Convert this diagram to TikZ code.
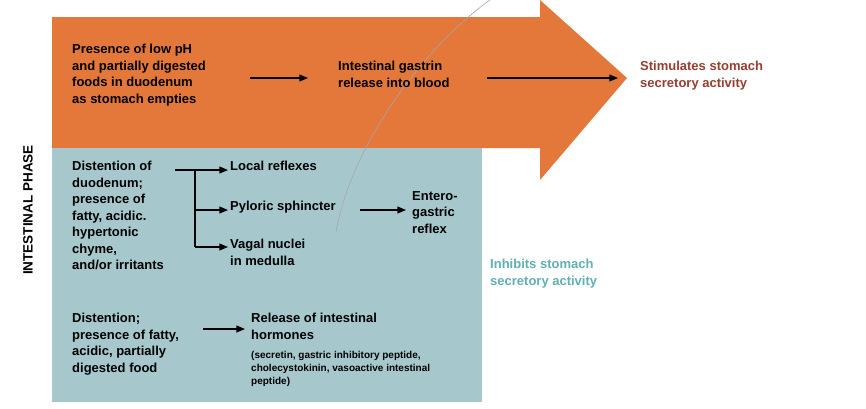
\documentclass[tikz,border=0pt]{standalone}
\usepackage{fontspec}
\setmainfont{Liberation Sans}
\usetikzlibrary{arrows.meta,positioning}
\definecolor{phaseOrange}{RGB}{228,120,58}
\definecolor{phaseTeal}{RGB}{166,200,204}
\definecolor{stimBrown}{RGB}{150,62,45}
\definecolor{inhibTeal}{RGB}{96,175,178}
\tikzset{
  >={Triangle[length=3mm,width=2.4mm]},
  txt/.style={anchor=north west,align=left,inner sep=0pt,font=\fontsize{13}{16.5}\selectfont\bfseries},
  small/.style={anchor=north west,align=left,inner sep=0pt,font=\fontsize{10}{13}\selectfont\bfseries},
  flow/.style={->,line width=1.2pt},
}
\begin{document}
\begin{tikzpicture}[x=1pt,y=-1pt]
\useasboundingbox (0,0) rectangle (866,408);

% ===== Background shapes =====
\fill[phaseOrange] (52,17) -- (540,17) -- (540,0) -- (627,78) -- (540,180) -- (540,148) -- (52,148) -- cycle;
\fill[phaseTeal] (52,148) rectangle (482,402);
\draw[gray!70,line width=0.6pt] (490,0) .. controls (420,50) and (350,150) .. (336,232);

% ===== Phase label =====
\node[rotate=90,font=\fontsize{13.5}{14}\selectfont\bfseries] (phase) at (28,210) {INTESTINAL PHASE};

% ===== Stimulating pathway =====
\node[txt] (lowPH) at (72,44) {Presence of low pH\\and partially digested\\foods in duodenum\\as stomach empties};
\node[txt] (gastrin) at (338,61) {Intestinal gastrin\\release into blood};
\node[txt,text=stimBrown] (stim) at (640,61) {Stimulates stomach\\secretory activity};
\coordinate (g0) at (250,78);
\coordinate (g1) at (308,78);
\coordinate (s0) at (487,78);
\coordinate (s1) at (618,78);
\draw[flow] (g0) -- (g1);
\draw[flow] (s0) -- (s1);

% ===== Inhibiting pathways =====
\node[txt] (disten) at (72,161) {Distention of\\duodenum;\\presence of\\fatty, acidic.\\hypertonic\\chyme,\\and/or irritants};
\node[txt] (local) at (230,161) {Local reflexes};
\node[txt] (pyloric) at (230,201) {Pyloric sphincter};
\node[txt] (vagal) at (230,239) {Vagal nuclei\\in medulla};
\node[txt] (entero) at (412,191) {Entero-\\gastric\\reflex};
\node[txt,text=inhibTeal] (inhib) at (490,259) {Inhibits stomach\\secretory activity};
\coordinate (b0) at (175,170);
\coordinate (b1) at (195,170);
\coordinate (b2) at (195,210);
\coordinate (b3) at (195,247);
\coordinate (p0) at (360,210);
\draw[flow] (b0) -- ([xshift=-2pt]local.west |- b0);
\draw[line width=1.2pt] (b1) -- (b3);
\draw[flow] (b2) -- ([xshift=-2pt]pyloric.west |- b2);
\draw[flow] (b3) -- ([xshift=-2pt]vagal.west |- b3);
\draw[flow] (p0) -- ([xshift=-6pt]entero.west |- b2);

\node[txt] (fatty) at (72,313) {Distention;\\presence of fatty,\\acidic, partially\\digested food};
\node[txt] (hormones) at (251,313) {Release of intestinal\\hormones};
\node[small] (peptides) at (251,351) {(secretin, gastric inhibitory peptide,\\cholecystokinin, vasoactive intestinal\\peptide)};
\coordinate (h0) at (203,329);
\draw[flow] (h0) -- ([xshift=-6pt]hormones.west |- h0);
\end{tikzpicture}
\end{document}
